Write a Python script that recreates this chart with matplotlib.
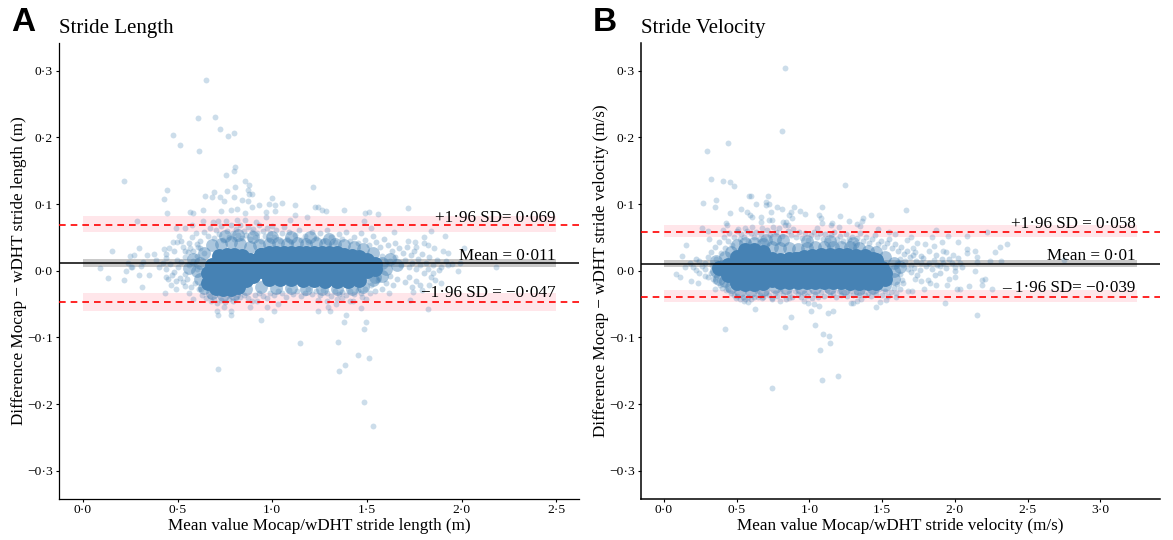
import matplotlib
matplotlib.use("Agg")
import matplotlib.pyplot as plt
from matplotlib.ticker import FixedLocator, FixedFormatter

plt.rcParams['font.family'] = ['Liberation Serif', 'DejaVu Serif']

# ---------- Panel A: points ----------
a_outer = [(.651,.2865),(.606,.2295),(.697,.2305),(.723,.2125),(.799,.207),(.765,.2015),(.476,.2035),(.512,.1885),
(.610,.179),(.805,.155),(.797,.1495),(.753,.143),(.219,.134),(.857,.135),(.878,.1285),(.805,.126),(1.213,.125),
(.446,.1205),(.761,.1195),(.693,.1175),(.645,.112),(.679,.11),(.725,.110),(.795,.110),(.870,.121),(.875,.115),
(.890,.115),(.430,.1075),(.745,.104),(.841,.106),(.869,.104),(1.0,.1085),(.984,.0995),(1.014,.0985),(1.05,.101),
(1.12,.098),(.93,.0985),(.894,.096),(1.223,.0955),(1.239,.096),(1.263,.091),(1.285,.089),(1.376,.091),(1.488,.087),
(1.508,.0885),(1.556,.0855),(1.715,.094),(.446,.086),(.566,.0885),(.582,.087),(.635,.0905),(.729,.0895),(.779,.091),
(.811,.092),(.855,.086),(.964,.0885),(1.014,.089),(.287,.074),(.576,.0685),(.492,.0635),(.536,.0635),(.635,.074),
(.685,.073),(.715,.074),(.755,.075),(.815,.076),(.855,.076),(.914,.0735),(.964,.081),(1.094,.076),(1.183,.081),
(1.118,.0835),(1.482,.074),(1.522,.0635),(1.641,.0575),(1.84,.06),(1.91,.0515),(1.80,.05),(1.715,.045),(1.751,.043),
(1.761,.036),(1.80,.041),(1.824,.0385),(1.854,.0335),(1.90,.03),(1.93,.027),(2.014,.0335),(2.179,.006),(.153,.029),
(.293,.0335),(.247,.022),(.271,.0235),(.376,.025),(.426,.0325),(.456,.0335),(.476,.0425),(.496,.0435),(.526,.036),
(.566,.0335),(.606,.035),(.506,.052),(.576,.05),(.596,.056),(.09,.004),(.237,.011),(.257,.006),(.307,.007),(.317,.0135),
(.386,.016),(.337,.0235),(.436,.0185),(.496,.016),(.536,.021),(.556,.0285),(.131,-.0115),(.219,-.014),(.227,-.0005),
(.297,-.006),(.349,-.0065),(.309,-.024),(.255,.005),(.436,-.009),(.432,-.034),(.466,-.021),(.492,-.028),(.536,-.023),
(.562,-.033),(.58,-.043),(.625,-.028),(.709,-.060),(.713,-.067),(.783,-.067),(.779,-.061),(.745,-.055),(.713,-.148),
(.884,-.054),(.942,-.074),(1.008,-.06),(.972,-.054),(1.028,-.05),(.89,-.045),(.92,-.046),(.675,-.046),(1.147,-.109),
(1.345,-.107),(1.243,-.06),(1.307,-.061),(1.293,-.055),(1.287,-.045),(1.239,-.044),(1.337,-.05),(1.343,-.043),
(1.367,-.0415),(1.388,-.067),(1.38,-.077),(1.494,-.077),(1.484,-.088),(1.47,-.056),(1.452,-.126),(1.508,-.131),
(1.382,-.142),(1.35,-.15),(1.482,-.1965),(1.534,-.233),(1.823,-.0575),(1.725,-.044),(1.408,-.045),(1.424,-.046),
(1.472,-.04),(1.496,-.043),(1.516,-.033),(1.618,-.034),(1.741,-.032),(1.79,-.029),(1.83,-.021),(1.89,-.018),(1.85,-.004),
(1.98,0.0),(1.93,.008)]

a_middle = [(.62,.045),(.64,.058),(.66,.052),(.67,.064),(.69,.049),(.70,.061),(.72,.055),(.73,.067),(.74,.046),(.76,.059),
(.77,.051),(.78,.068),(.79,.057),(.80,.047),(.81,.063),(.82,.054),(.83,.069),(.84,.049),(.85,.06),(.86,.053),(.87,.066),
(.88,.047),(.89,.058),(.90,.062),(.91,.05),(.92,.056),(.93,.068),(.94,.045),(.95,.059),(.96,.052),(.97,.064),(.98,.048),
(.99,.057),(1.00,.067),(1.01,.05),(1.02,.061),(1.04,.044),(1.05,.056),(1.06,.066),(1.08,.048),(1.09,.058),(1.10,.043),
(1.12,.053),(1.14,.061),(1.15,.046),(1.17,.052),(1.19,.043),(1.21,.058),(1.23,.049),(1.25,.056),(1.27,.044),(1.29,.061),
(1.31,.05),(1.33,.043),(1.35,.055),(1.37,.047),(1.39,.058),(1.41,.044),(1.43,.051),(1.45,.041),(1.47,.056),(1.49,.046),
(1.51,.038),(1.53,.052),(1.55,.043),(1.57,.035),(1.59,.048),(1.61,.039),(1.63,.03),(1.65,.042),(1.67,.034),(1.69,.027),
(1.71,.036),(1.73,.023),(1.75,.029),(1.77,.018),(1.79,.025),(1.81,.012),(1.83,.02),(1.85,.008),(1.87,.016),(1.89,.006),
(1.92,.015),(1.95,.01),(1.99,.012),(1.58,.022),(1.62,.015),(1.65,.02),(1.68,.009),(1.70,.016),(1.72,.006),(1.74,.012),
(1.76,.002),(1.78,.008),(1.80,-.003),(1.82,.003),(1.84,-.009),(1.86,-.014),(1.88,.001),(1.72,-.009),(1.70,-.017),
(1.66,-.012),(1.64,-.022),(1.62,-.008),(1.60,-.018),(1.58,-.027),(1.56,-.014),(1.54,-.03),(1.52,-.022),(1.76,-.016),
(1.78,-.022),(1.74,-.025),(.40,.006),(.42,.012),(.44,.003),(.46,.01),(.48,-.002),(.50,.006),(.52,.013),(.54,-.005),
(.56,.009),(.58,.015),(.60,.002),(.45,-.013),(.47,-.006),(.49,-.016),(.51,-.011),(.53,-.017),(.55,-.012),(.57,-.024),
(.59,-.018),(.61,-.028),(.63,-.036),(.65,-.041),(.67,-.038),(.69,-.043),(.71,-.048),(.73,-.044),(.75,-.047),(.77,-.042),
(.79,-.045),(.81,-.041),(.83,-.039),(.85,-.036),(.87,-.041),(.91,-.037),(.93,-.033),(.95,-.038),(.97,-.041),(.99,-.034),
(1.01,-.037),(1.03,-.03),(1.05,-.034),(1.07,-.039),(1.09,-.029),(1.11,-.035),(1.13,-.031),(1.15,-.038),(1.17,-.033),
(1.19,-.028),(1.21,-.035),(1.23,-.031),(1.25,-.036),(1.27,-.029),(1.29,-.034),(1.31,-.038),(1.33,-.03),(1.35,-.035),
(1.37,-.032),(1.39,-.037),(1.41,-.03),(1.43,-.035),(1.45,-.029),(1.47,-.034),(1.49,-.027),(.58,.03),(.60,.04),(.62,.034),
(.64,.027),(.60,.022),(.56,.042),(.54,.03),(.52,.044),(.48,.03),(.44,.025)]

# Dense core of the cloud, drawn as aggregated larger marks
a_core_x = [.66,.70,.74,.78,.82,.86,.66,.70,.74,.78,.82,.86,.70,.74,.78,.82,.68,.72,.76,.80,.84,.88,.72,.76,.80,.84,
.90,.94,.98,1.02,1.06,1.10,1.14,1.18,1.22,1.26,1.30,1.34,1.38,1.42,1.46,1.50,1.54,
.90,.94,.98,1.02,1.06,1.10,1.14,1.18,1.22,1.26,1.30,1.34,1.38,1.42,1.46,1.50,1.54,
.94,.98,1.02,1.06,1.10,1.14,1.18,1.22,1.26,1.30,1.34,1.38,1.42,1.46,1.50,
.98,1.04,1.10,1.16,1.22,1.28,1.34,1.40,1.46,
.90,.94,.88]
a_core_y = [-.004,-.006,-.006,-.006,-.006,-.002,-.018,-.02,-.02,-.02,-.018,-.014,-.026,-.027,-.027,-.024,.008,.012,.012,.012,.01,.006,.022,.024,.024,.022,
.0,.0,.0,.0,.0,.0,.0,.0,.0,.0,.0,.0,.0,.0,.0,.0,.002,
.014,.014,.014,.014,.014,.014,.014,.014,.014,.014,.014,.014,.014,.014,.012,.012,.01,
.024,.026,.026,.026,.026,.026,.026,.026,.026,.026,.026,.024,.022,.02,.016,
-.012,-.012,-.012,-.014,-.014,-.016,-.016,-.016,-.014,
-.008,.024,.016]

# Shoulder of the cloud, lighter than the core and heavier than single points
a_halo = [(.68,.038),(.73,.04),(.78,.043),(.83,.04),(.88,.035),(.93,.038),(.98,.04),(1.03,.042),(1.08,.04),(1.13,.042),
(1.18,.04),(1.23,.042),(1.28,.04),(1.33,.04),(1.38,.038),(1.43,.036),(1.48,.032),(1.53,.027),(.75,.052),(.82,.054),
(.9,.05),(1.0,.05),(1.1,.05),(1.2,.05),(1.3,.048),(.62,.012),(.6,.0),(.62,-.012),(.64,-.026),(.64,.026),(1.58,.012),
(1.6,.002),(1.58,-.008),(1.53,-.014),(1.62,.018),(.68,-.033),(.74,-.036),(.8,-.035),(.86,-.028),(.94,-.024),(1.02,-.026),
(1.1,-.026),(1.18,-.028),(1.26,-.028),(1.34,-.028),(1.42,-.028),(1.48,-.024),(1.54,-.01),(1.66,.008),(.56,.004),(.58,.018)]

# ---------- Panel B: points ----------
b_outer = [(.831,.3045),(.813,.2095),(.439,.192),(.294,.179),(.323,.137),(.408,.1345),(.454,.1335),(.483,.1265),(1.242,.128),
(.584,.1115),(.599,.1115),(.718,.1125),(.361,.1055),(.271,.1015),(.354,.0955),(.635,.0995),(.702,.103),(.725,.1),(.702,.098),
(.78,.0955),(.808,.092),(.893,.096),(1.087,.0955),(.532,.092),(.573,.0885),(.591,.0835),(.604,.081),(.454,.086),(.738,.0885),
(.875,.0875),(.857,.0835),(.932,.0895),(.971,.085),(1.069,.0835),(1.077,.0785),(1.211,.0825),(1.423,.083),(1.368,.0785),
(1.36,.075),(1.275,.074),(1.665,.091),(.669,.081),(.746,.076),(.72,.076),(.664,.0735),(.818,.0725),(.837,.0735),(.85,.0685),
(.88,.0785),(1.087,.072),(1.154,.072),(1.146,.0685),(1.206,.066),(1.327,.07),(1.348,.067),(.429,.072),(.436,.0685),(.261,.0645),
(.302,.0595),(.307,.0475),(.152,.0385),(.121,.022),(.405,.061),(.509,.062),(.56,.064),(.604,.066),(.674,.0635),(1.051,.064),
(1.474,.062),(1.547,.0575),(1.59,.0545),(1.696,.051),(1.671,.046),(1.841,.051),(1.869,.061),(1.955,.0525),(2.084,.052),
(2.223,.0585),(2.355,.0395),(2.308,.036),(2.275,.0285),(2.024,.0435),(1.908,.0435),(1.856,.0375),(1.794,.04),(1.74,.041),
(1.714,.0335),(1.727,.0285),(1.825,.03),(1.921,.03),(1.942,.0285),(1.99,.0235),(2.084,.032),(2.14,.03),(2.084,.026),(2.153,.021),
(2.243,.015),(2.32,.014),(2.747,.016),(2.037,.011),(1.998,.006),(1.895,.007),(1.766,.011),(1.70,.0085),(1.856,.016),(2.153,.0135),
(.083,-.0055),(.108,-.0095),(.186,-.015),(.232,-.018),(.147,.006),(.217,.001),(.243,-.004),(.281,-.008),(.354,-.016),(.354,-.028),
(.387,-.021),(.423,-.029),(.421,-.087),(.496,-.041),(.553,-.046),(.578,-.047),(.625,-.058),(.643,-.04),(.676,-.041),(.746,-.041),
(.798,-.045),(.862,-.041),(.966,-.046),(.991,-.049),(1.03,-.05),(1.069,-.053),(1.012,-.06),(1.131,-.063),(1.164,-.06),(.873,-.069),
(.831,-.085),(1.038,-.082),(1.092,-.095),(1.136,-.098),(1.141,-.108),(1.074,-.119),(1.087,-.1645),(1.193,-.158),(.744,-.1765),
(1.288,-.048),(1.301,-.049),(1.327,-.045),(1.353,-.043),(1.459,-.055),(1.482,-.047),(1.529,-.044),(1.596,-.04),(1.596,-.034),
(1.676,-.031),(1.707,-.03),(1.787,-.028),(1.934,-.049),(2.151,-.067),(2.099,-.023),(2.254,-.028),(2.011,-.028),(2.037,-.028),
(2.187,-.021),(2.187,-.014),(2.205,-.012),(2.14,-.001),(1.998,-.009),(1.96,-.012),(1.947,-.021),(1.869,-.021),(1.83,-.019),
(1.817,-.014),(1.766,-.016),(1.727,-.012),(1.637,-.014)]

b_middle = [(.28,.012),(.30,.021),(.32,.028),(.33,.008),(.35,.036),(.36,.018),(.38,.043),(.39,.026),(.41,.05),(.42,.034),(.44,.045),
(.45,.056),(.47,.038),(.48,.051),(.50,.059),(.52,.047),(.53,.055),(.55,.05),(.57,.06),(.58,.044),(.60,.056),(.62,.05),(.63,.058),
(.65,.047),(.67,.055),(.69,.048),(.71,.061),(.73,.053),(.75,.066),(.77,.058),(.79,.064),(.81,.052),(.83,.069),(.85,.059),(.87,.054),
(.89,.062),(.91,.051),(.93,.058),(.95,.049),(.97,.056),(.99,.046),(1.01,.054),(1.03,.058),(1.05,.05),(1.07,.057),(1.09,.048),
(1.11,.055),(1.13,.046),(1.15,.053),(1.17,.058),(1.19,.047),(1.21,.052),(1.23,.044),(1.25,.055),(1.27,.047),(1.29,.051),(1.31,.042),
(1.33,.049),(1.35,.056),(1.37,.044),(1.39,.05),(1.41,.041),(1.43,.047),(1.45,.053),(1.47,.04),(1.49,.045),(1.51,.036),(1.53,.042),
(1.55,.048),(1.57,.034),(1.59,.04),(1.61,.03),(1.63,.036),(1.65,.025),(1.67,.03),(1.69,.02),(1.71,.024),(1.73,.014),(1.62,.018),
(1.60,.012),(1.64,.008),(1.66,.014),(1.68,.003),(1.70,-.002),(1.72,.004),(1.74,-.006),(1.76,.001),(1.78,.019),(1.80,.007),(1.82,.012),
(1.84,.002),(1.86,-.006),(1.88,.008),(1.90,-.003),(1.92,.012),(1.94,.004),(1.96,.018),(1.98,.012),(2.00,-.001),(2.02,.019),(2.05,.006),
(1.91,.018),(1.87,.024),(1.77,.022),(1.62,-.005),(1.64,-.018),(1.60,-.02),(1.62,-.028),(1.58,-.026),(1.56,-.032),(1.54,-.038),(1.52,-.03),
(1.50,-.036),(1.48,-.028),(1.46,-.035),(1.44,-.03),(1.42,-.038),(1.40,-.033),(1.38,-.036),(1.36,-.03),(1.34,-.037),(1.32,-.032),(1.30,-.036),
(1.28,-.03),(1.26,-.038),(1.24,-.032),(1.22,-.036),(1.20,-.03),(1.18,-.039),(1.16,-.033),(1.14,-.036),(1.12,-.029),(1.10,-.038),(1.08,-.032),
(1.06,-.04),(1.04,-.035),(1.02,-.041),(1.00,-.032),(.98,-.038),(.96,-.033),(.94,-.04),(.92,-.035),(.90,-.03),(.88,-.039),(.86,-.033),(.84,-.042),
(.82,-.036),(.80,-.03),(.78,-.038),(.76,-.034),(.74,-.043),(.72,-.037),(.70,-.033),(.68,-.04),(.66,-.036),(.64,-.031),(.62,-.039),(.60,-.042),
(.58,-.04),(.56,-.043),(.54,-.039),(.52,-.042),(.50,-.038),(.48,-.036),(.46,-.034),(.44,-.027),(.42,-.02),(.40,-.026),(.38,-.014),(.36,-.008),
(.34,-.013),(.32,-.004),(.30,-.009),(.28,.002),(.26,.007),(.24,.014),(.22,.018),(.20,.006),(.18,.011)]

b_core_x = [.44,.50,.56,.62,.68,.44,.50,.56,.62,.68,.74,.50,.56,.62,.68,.74,.50,.56,.62,.68,.74,.56,.62,.68,
.78,.84,.90,.96,1.02,1.08,1.14,1.20,1.26,1.32,1.38,1.44,1.50,
.80,.86,.92,.98,1.04,1.10,1.16,1.22,1.28,1.34,1.40,1.46,1.52,
.80,.86,.92,.98,1.04,1.10,1.16,1.22,1.28,1.34,1.40,1.46,1.52,
.90,.96,1.02,1.08,1.14,1.20,1.26,1.32,1.38,1.44,
.80,.86,.92,.98,1.04,1.10,1.16,1.22,1.28,1.34,1.40,1.46,.74,.38]
b_core_y = [.008,.008,.008,.008,.006,-.006,-.006,-.006,-.006,-.006,-.004,-.018,-.02,-.02,-.018,-.014,.02,.02,.02,.02,.018,.031,.031,.028,
.006,.006,.006,.006,.006,.006,.006,.006,.006,.006,.006,.006,.004,
-.006,-.006,-.006,-.006,-.006,-.006,-.006,-.006,-.006,-.006,-.006,-.006,-.004,
-.017,-.017,-.017,-.017,-.017,-.017,-.017,-.017,-.018,-.018,-.018,-.018,-.012,
.018,.02,.022,.024,.024,.024,.024,.022,.022,.018,
.016,.018,.018,.018,.018,.018,.018,.018,.018,.018,.016,.016,.0,.004]

b_halo = [(.36,.014),(.36,.0),(.38,-.012),(.42,.02),(.46,.028),(.5,.038),(.56,.042),(.62,.042),(.68,.04),(.74,.036),(.8,.034),
(.86,.034),(.92,.032),(.98,.034),(1.04,.036),(1.1,.036),(1.16,.036),(1.22,.036),(1.28,.036),(1.34,.034),(1.4,.03),(1.46,.028),(1.52,.02),
(1.58,.012),(1.58,.0),(1.58,-.012),(1.62,.006),(1.52,-.022),(1.44,-.026),(1.34,-.027),(1.24,-.027),(1.14,-.026),(1.04,-.026),(.94,-.026),
(.84,-.026),(.76,-.024),(.68,-.029),(.6,-.031),(.52,-.03),(.46,-.025),(.42,-.016),(.82,.046),(.76,.048),(.7,.046),(.98,.044),(1.14,.044),(1.3,.042)]

y_ticks = [-0.3, -0.2, -0.1, 0.0, 0.1, 0.2, 0.3]
y_tick_labels = ['\u22120\u00b73', '\u22120\u00b72', '\u22120\u00b71', '0\u00b70', '0\u00b71', '0\u00b72', '0\u00b73']
a_x_ticks = [0.0, 0.5, 1.0, 1.5, 2.0, 2.5]
a_x_labels = ['0\u00b70', '0\u00b75', '1\u00b70', '1\u00b75', '2\u00b70', '2\u00b75']
b_x_ticks = [0.0, 0.5, 1.0, 1.5, 2.0, 2.5, 3.0]
b_x_labels = ['0\u00b70', '0\u00b75', '1\u00b70', '1\u00b75', '2\u00b70', '2\u00b75', '3\u00b70']

W, H = 1173, 540
BLUE = '#4682B4'
fig = plt.figure(figsize=(W / 100, H / 100), dpi=100)


def panel(rect, xlim, x_ticks, x_labels, outer, middle, halo, core_x, core_y, band_end,
          upper, mean, lower, up_band, mean_band, low_band, texts, title, letter, letter_x,
          xlabel, ylabel, lw):
    left, top, right, bottom = rect
    ax = fig.add_axes([left / W, 1 - bottom / H, (right - left) / W, (bottom - top) / H])
    ax.set_xlim(*xlim)
    ax.set_ylim(-0.3415, 0.3415)
    for b in (up_band, low_band):
        ax.fill_between([0, band_end], b[0], b[1], color='#FFE6EA', lw=0, zorder=1)
    ax.fill_between([0, band_end], mean_band[0], mean_band[1], color='#C9C9C9', lw=0, zorder=1)
    ax.scatter(*zip(*halo), s=85, color=BLUE, alpha=0.45, lw=0, zorder=2)
    ax.scatter(core_x, core_y, s=115, color=BLUE, alpha=1.0, lw=0, zorder=2)
    ax.scatter(*zip(*middle), s=18, color=BLUE, alpha=0.3, lw=0, zorder=2)
    ax.scatter(*zip(*outer), s=18, color=BLUE, alpha=0.27, lw=0, zorder=2)
    ax.axhline(mean, color='black', lw=1.1, zorder=3)
    for v in (upper, lower):
        ax.axhline(v, color='red', lw=1.2, ls=(0, (4, 3)), zorder=3)
    for (y, s) in texts:
        ax.text(band_end - 0.006, y, s, ha='right', va='baseline', fontsize=12.3, zorder=4)
    ax.xaxis.set_major_locator(FixedLocator(x_ticks))
    ax.xaxis.set_major_formatter(FixedFormatter(x_labels))
    ax.yaxis.set_major_locator(FixedLocator(y_ticks))
    ax.yaxis.set_major_formatter(FixedFormatter(y_tick_labels))
    ax.tick_params(labelsize=9.7, length=2.5, width=0.8)
    ax.tick_params(axis='x', pad=1.5)
    ax.tick_params(axis='y', pad=2)
    for s in ('top', 'right'):
        ax.spines[s].set_visible(False)
    for s in ('left', 'bottom'):
        ax.spines[s].set_linewidth(lw)
    ax.set_xlabel(xlabel, fontsize=12.3, labelpad=1.5)
    ax.set_ylabel(ylabel, fontsize=12.3, labelpad=0)
    fig.text(left / W, 1 - 33 / H, title, fontsize=15, ha='left', va='baseline')
    fig.text(letter_x / W, 1 - 31 / H, letter, fontsize=24, fontweight='bold',
             family=['Liberation Sans'], ha='left', va='baseline')
    return ax


panel((59, 43, 579, 498.5), (-0.127, 2.62), a_x_ticks, a_x_labels, a_outer, a_middle, a_halo, a_core_x, a_core_y,
      2.5, 0.069, 0.011, -0.047, (0.0575, 0.0825), (0.005, 0.018), (-0.060, -0.034),
      [(0.0735, '+1\u00b796 SD= 0\u00b7069'), (0.0155, 'Mean = 0\u00b7011'),
       (-0.039, '\u22121\u00b796 SD = \u22120\u00b7047')],
      'Stride Length', 'A', 11, 'Mean value Mocap/wDHT stride length (m)',
      'Difference Mocap \u2212 wDHT stride length (m)', 0.9)

panel((641, 43, 1160, 498.5), (-0.158, 3.41), b_x_ticks, b_x_labels, b_outer, b_middle, b_halo, b_core_x, b_core_y,
      3.25, 0.058, 0.01, -0.039, (0.050, 0.069), (0.005, 0.0165), (-0.0475, -0.0285),
      [(0.0645, '+1\u00b796 SD = 0\u00b7058'), (0.0155, 'Mean = 0\u00b701'),
       (-0.0315, '\u2013 1\u00b796 SD= \u22120\u00b7039')],
      'Stride Velocity', 'B', 593, 'Mean value Mocap/wDHT stride velocity (m/s)',
      'Difference Mocap \u2212 wDHT stride velocity (m/s)', 1.1)

fig.savefig('out.png', dpi=100)
